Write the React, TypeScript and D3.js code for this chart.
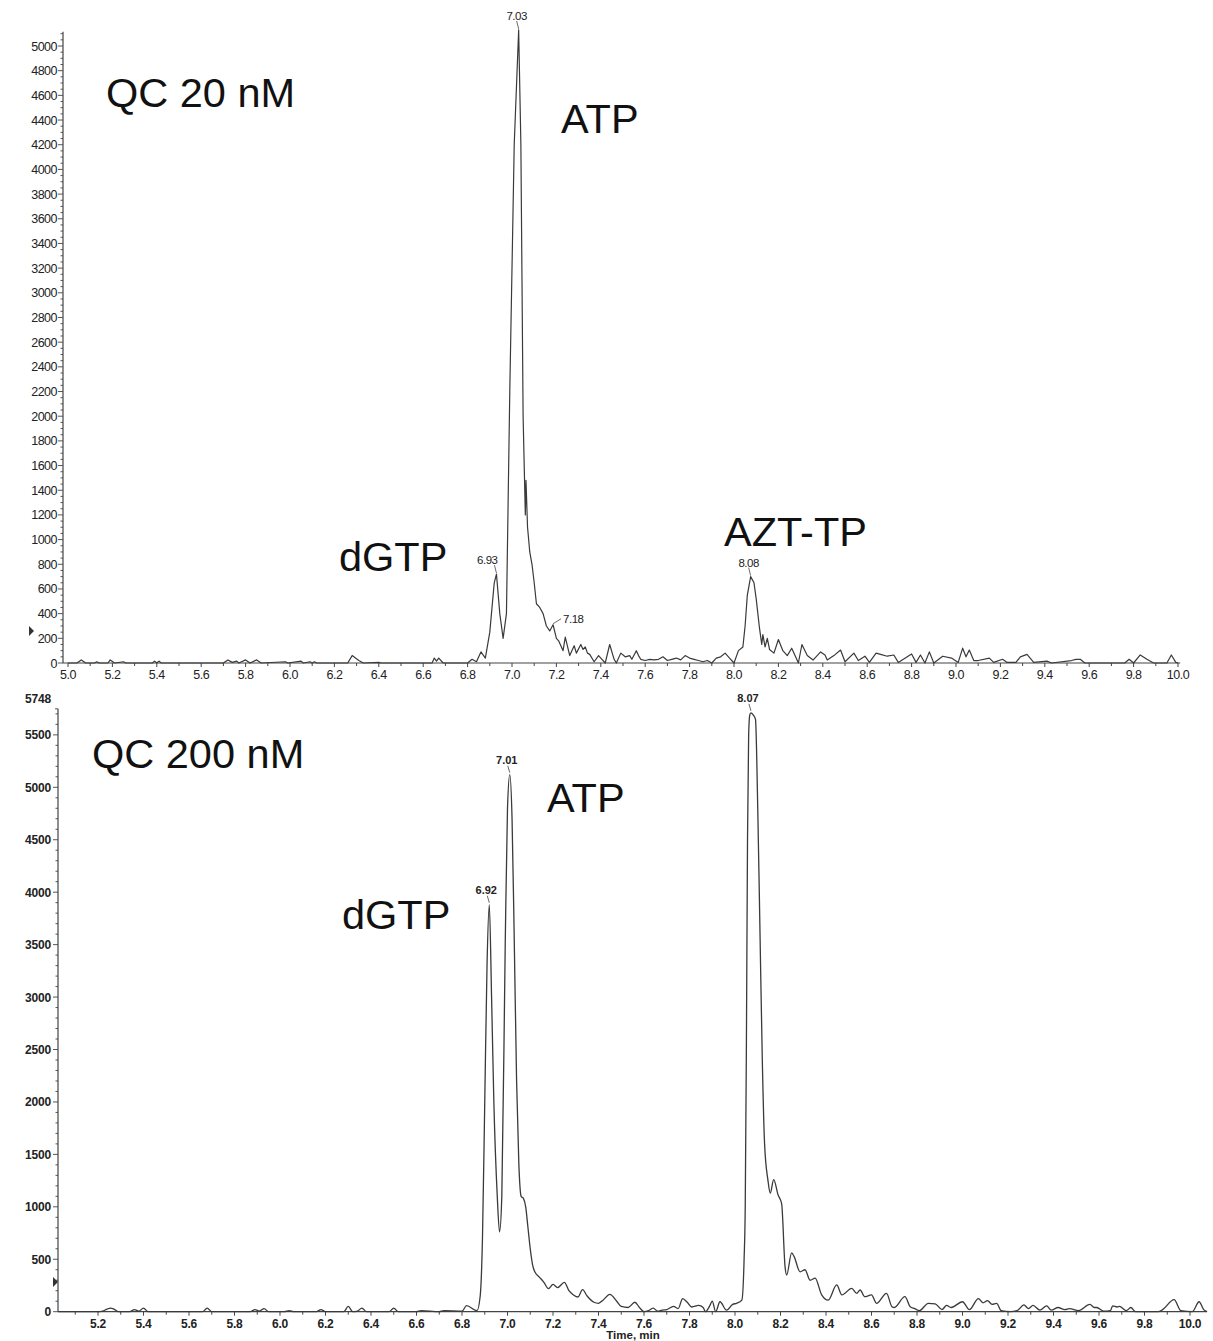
import React from "react";
import * as d3 from "d3";

// ---------- DATA ----------
const topTime = [
  5.0, 5.04, 5.06, 5.08, 5.12, 5.13, 5.14, 5.18, 5.19, 5.21, 5.25, 5.26, 5.38, 5.39, 5.4, 5.41, 5.42,
  5.7, 5.72, 5.74, 5.76, 5.77, 5.8, 5.82, 5.85, 5.87, 5.98, 5.99, 6.05, 6.06, 6.09, 6.1, 6.11, 6.12,
  6.26, 6.28, 6.31, 6.32, 6.33, 6.4, 6.41, 6.64, 6.65, 6.66, 6.67, 6.69, 6.8, 6.82, 6.84, 6.86, 6.88,
  6.9, 6.92, 6.93, 6.945, 6.96, 6.975, 6.99, 7.01, 7.03, 7.04, 7.05, 7.06, 7.063, 7.07, 7.08, 7.09,
  7.1, 7.11, 7.125, 7.14, 7.155, 7.17, 7.185, 7.2, 7.21, 7.23, 7.24, 7.26, 7.28, 7.29, 7.31, 7.32,
  7.33, 7.34, 7.35, 7.37, 7.39, 7.4, 7.42, 7.44, 7.46, 7.47, 7.49, 7.51, 7.53, 7.54, 7.56, 7.57,
  7.58, 7.6, 7.62, 7.64, 7.66, 7.68, 7.7, 7.72, 7.74, 7.76, 7.78, 7.8, 7.82, 7.84, 7.86, 7.88, 7.9,
  7.92, 7.94, 7.96, 7.98, 8.0, 8.02, 8.04, 8.05, 8.06, 8.075, 8.09, 8.1, 8.115, 8.125, 8.13, 8.14,
  8.15, 8.16, 8.18, 8.2, 8.22, 8.24, 8.26, 8.28, 8.29, 8.306, 8.33, 8.356, 8.39, 8.41, 8.42, 8.45,
  8.48, 8.5, 8.54, 8.56, 8.59, 8.61, 8.64, 8.66, 8.69, 8.72, 8.74, 8.8, 8.82, 8.84, 8.86, 8.88, 8.9,
  8.94, 8.98, 9.01, 9.03, 9.045, 9.06, 9.08, 9.1, 9.15, 9.17, 9.21, 9.23, 9.27, 9.29, 9.32, 9.35,
  9.41, 9.43, 9.52, 9.54, 9.56, 9.58, 9.76, 9.78, 9.8, 9.83, 9.86, 9.89, 9.95, 9.97, 9.99, 10.0
];
const topIntensity = [
  0, 0, 25, 0, 0, 10, 0, 0, 25, 0, 10, 0, 0, 15, 0, 15, 0,
  0, 25, 5, 15, 0, 25, 0, 25, 0, 10, 0, 15, 0, 10, 0, 10, 0,
  0, 60, 20, 10, 0, 5, 0, 0, 40, 15, 40, 0, 0, 30, 10, 90, 40,
  250, 650, 720, 400, 200, 400, 2200, 4200, 5130, 4200, 2000, 1200, 1480, 1100, 900, 800,
  650, 480, 450, 400, 300, 260, 310, 200, 180, 100, 210, 60, 140, 80, 150, 110,
  130, 80, 70, 10, 60, 40, 0, 150, 30, 0, 80, 50, 60, 30, 100, 60,
  30, 20, 30, 25, 30, 50, 20, 30, 40, 25, 60, 40, 30, 20, 10, 20, 0,
  40, 50, 80, 40, 0, 100, 130, 300, 550, 700, 650, 520, 280, 150, 230, 130,
  200, 110, 80, 190, 100, 60, 120, 40, 0, 150, 60, 24, 90, 65, 24, 60,
  105, 10, 80, 20, 55, 5, 80, 70, 55, 65, 5, 73, 5, 65, 0, 90, 0,
  55, 40, 5, 120, 50, 105, 20, 20, 40, 5, 30, 5, 5, 50, 70, 5,
  15, 0, 20, 30, 30, 0, 0, 30, 0, 65, 30, 0, 0, 65, 5, 0
];

const botTime = [
  5.024, 5.2, 5.22, 5.24, 5.255, 5.27, 5.29, 5.34, 5.36, 5.38, 5.4, 5.42, 5.66, 5.68, 5.7, 5.87,
  5.89, 5.91, 5.93, 5.95, 6.02, 6.04, 6.06, 6.16, 6.18, 6.2, 6.28, 6.3, 6.32, 6.34, 6.36, 6.38,
  6.48, 6.5, 6.52, 6.6, 6.62, 6.7, 6.72, 6.8, 6.82, 6.866, 6.88, 6.89, 6.9, 6.91, 6.92, 6.93, 6.94,
  6.955, 6.965, 6.975, 6.99, 7.0, 7.01, 7.02, 7.03, 7.04, 7.05, 7.06, 7.07, 7.08, 7.09, 7.1, 7.11,
  7.12, 7.14, 7.16, 7.18, 7.2, 7.22, 7.25, 7.27, 7.29, 7.31, 7.33, 7.35, 7.38, 7.4, 7.42, 7.45,
  7.48, 7.5, 7.53, 7.56, 7.58, 7.6, 7.62, 7.64, 7.66, 7.68, 7.7, 7.73, 7.75, 7.77, 7.79, 7.81,
  7.84, 7.86, 7.87, 7.89, 7.9, 7.915, 7.934, 7.963, 7.99, 8.007, 8.03, 8.04, 8.045, 8.05, 8.055,
  8.06, 8.065, 8.07, 8.08, 8.09, 8.1, 8.11, 8.12, 8.13, 8.145, 8.155, 8.17, 8.19, 8.205, 8.22,
  8.227, 8.249, 8.26, 8.286, 8.308, 8.33, 8.352, 8.381, 8.41, 8.447, 8.47, 8.513, 8.535, 8.55,
  8.57, 8.6, 8.622, 8.666, 8.69, 8.7, 8.747, 8.77, 8.79, 8.81, 8.85, 8.88, 8.91, 8.93, 8.95, 9.0,
  9.03, 9.07, 9.09, 9.11, 9.13, 9.15, 9.17, 9.21, 9.24, 9.27, 9.29, 9.31, 9.34, 9.37, 9.39, 9.42,
  9.45, 9.47, 9.51, 9.56, 9.58, 9.59, 9.62, 9.65, 9.66, 9.68, 9.69, 9.72, 9.74, 9.76, 9.86, 9.88,
  9.93, 9.96, 10.01, 10.04, 10.06, 10.075
];
const botIntensity = [
  0, 0, 5, 25, 35, 25, 0, 0, 20, 5, 35, 0, 0, 35, 0, 0,
  20, 5, 30, 0, 0, 10, 0, 0, 20, 0, 0, 50, 0, 5, 35, 0,
  0, 35, 0, 0, 10, 0, 10, 5, 57, 10, 150, 700, 2000, 3300, 3880, 3000, 2000,
  1100, 760, 1100, 3500, 4800, 5120, 4700, 3500, 2200, 1400, 1100, 1080, 1000, 800, 600, 450,
  380, 330, 280, 220, 260, 230, 280, 200, 160, 140, 210, 150, 90, 80, 110, 165,
  100, 50, 40, 90, 40, 0, 10, 35, 5, 15, 20, 50, 30, 125, 90, 45,
  60, 40, 0, 60, 100, 0, 95, 15, 70, 80, 110, 500, 1000, 2500, 4500,
  5500, 5690, 5710, 5690, 5650, 4800, 3600, 2400, 1600, 1250, 1130, 1260, 1110, 1030, 430,
  350, 560, 525, 380, 400, 300, 320, 160, 110, 255, 160, 223, 175, 207,
  143, 160, 80, 175, 48, 40, 143, 48, 30, 10, 80, 75, 20, 60, 40, 95,
  20, 125, 85, 105, 70, 80, 10, 0, 10, 65, 30, 60, 15, 55, 15, 40,
  20, 30, 10, 70, 40, 40, 5, 10, 55, 45, 50, 10, 40, 0, 0, 20,
  115, 10, 0, 95, 20, 0
];

const topYTicks = [0, 200, 400, 600, 800, 1000, 1200, 1400, 1600, 1800, 2000, 2200, 2400, 2600, 2800,
  3000, 3200, 3400, 3600, 3800, 4000, 4200, 4400, 4600, 4800, 5000];
const topXLabels = ["5.0", "5.2", "5.4", "5.6", "5.8", "6.0", "6.2", "6.4", "6.6", "6.8", "7.0", "7.2",
  "7.4", "7.6", "7.8", "8.0", "8.2", "8.4", "8.6", "8.8", "9.0", "9.2", "9.4", "9.6", "9.8", "10.0"];
const botYTicks = [0, 500, 1000, 1500, 2000, 2500, 3000, 3500, 4000, 4500, 5000, 5500];
const botYMax = 5748;
const botXLabels = ["5.2", "5.4", "5.6", "5.8", "6.0", "6.2", "6.4", "6.6", "6.8", "7.0", "7.2", "7.4",
  "7.6", "7.8", "8.0", "8.2", "8.4", "8.6", "8.8", "9.0", "9.2", "9.4", "9.6", "9.8", "10.0"];

const topPeaks = [
  { label: "7.03", t: 7.03, v: 5130 },
  { label: "6.93", t: 6.93, v: 720 },
  { label: "7.18", t: 7.185, v: 310 },
  { label: "8.08", t: 8.075, v: 700 },
];
const botPeaks = [
  { label: "8.07", t: 8.07, v: 5710 },
  { label: "7.01", t: 7.01, v: 5120 },
  { label: "6.92", t: 6.92, v: 3880 },
];

const FONT = "'Liberation Sans', Arial, sans-serif";

export default function App() {
  // top panel scales
  const xT = d3.scaleLinear().domain([5.0, 10.0]).range([68, 1178]);
  const yT = d3.scaleLinear().domain([0, 5000]).range([663, 46]);
  const xTmin = 4.977, xTmax = 10.01, yTmax = 5115;
  // bottom panel scales
  const xB = d3.scaleLinear().domain([5.2, 10.0]).range([98, 1190]);
  const yB = d3.scaleLinear().domain([0, 5000]).range([1311.7, 787.3]);
  const xBmin = 5.024, xBmax = 10.075;

  const topLine = d3.line<number>()
    .x((_, i) => xT(topTime[i]))
    .y((d) => yT(d))
    .curve(d3.curveLinear)(topIntensity) as string;
  const botLine = d3.line<number>()
    .x((_, i) => xB(botTime[i]))
    .y((d) => yB(d))
    .curve(d3.curveMonotoneX)(botIntensity) as string;

  const topMinorY = d3.range(0, 5101, 50);
  const topMinorX = d3.range(0, 51).map((i) => 5 + i * 0.1);
  const botMinorY = d3.range(0, 5701, 100);
  const botMinorX = d3.range(0, 50).map((i) => 5.1 + i * 0.1);

  const axisColor = "#444";
  const lineColor = "#3a3a3a";

  return (
    <svg width={1213} height={1341} style={{ position: "absolute", left: 0, top: 0, background: "#fff" }}
      fontFamily={FONT}>
      <rect x={0} y={0} width={1213} height={1341} fill="#fff" />
      {/* ---------- TOP PANEL ---------- */}
      <g>
        <line x1={63} x2={63} y1={yT(yTmax)} y2={yT(0)} stroke={axisColor} strokeWidth={1.2} />
        <line x1={xT(xTmin)} x2={xT(xTmax)} y1={yT(0)} y2={yT(0)} stroke={axisColor} strokeWidth={1.2} />
        {topMinorY.map((v) => (
          <line key={"tmy" + v} x1={v % 200 === 0 ? 58 : 60.5} x2={63} y1={yT(v)} y2={yT(v)}
            stroke={axisColor} strokeWidth={0.9} />
        ))}
        {topYTicks.map((v) => (
          <text key={"tyl" + v} x={57} y={yT(v) + 4.5} fontSize={12.5} textAnchor="end" fill="#222"
            letterSpacing={-0.5}>{v}</text>
        ))}
        {topMinorX.map((t, i) => (
          <line key={"tmx" + i} x1={xT(t)} x2={xT(t)} y1={yT(0)} y2={yT(0) + (i % 2 === 0 ? 4 : 3)}
            stroke={axisColor} strokeWidth={1} />
        ))}
        {topXLabels.map((s, i) => (
          <text key={"txl" + s} x={xT(5 + i * 0.2)} y={679} fontSize={12.5} textAnchor="middle" fill="#222"
            letterSpacing={-0.5}>{s}</text>
        ))}
        <path d="M29,626 L34,631 L29,636 Z" fill="#333" />
        <path d={topLine} fill="none" stroke={lineColor} strokeWidth={1.2} strokeLinejoin="round" />
        {topPeaks.map((p) => {
          const px = xT(p.t), py = yT(p.v);
          if (p.label === "7.18") {
            return (
              <g key={p.label}>
                <line x1={px} y1={py - 1} x2={px + 8} y2={py - 6} stroke="#444" strokeWidth={0.8} />
                <text x={px + 10} y={py - 2} fontSize={11.5} fill="#222" letterSpacing={-0.5}>{p.label}</text>
              </g>
            );
          }
          return (
            <g key={p.label}>
              <line x1={px - 2} y1={py - 9} x2={px} y2={py - 1} stroke="#444" strokeWidth={0.8} />
              <text x={px - 2} y={py - 10} fontSize={11.5} textAnchor={p.label === "6.93" ? "end" : "middle"}
                dx={p.label === "6.93" ? 3 : 0} fill="#222" letterSpacing={-0.5}>{p.label}</text>
            </g>
          );
        })}
        <text x={106} y={107} fontSize={41.5} fill="#111">QC 20 nM</text>
        <text x={561} y={133} fontSize={41.5} fill="#111">ATP</text>
        <text x={339} y={571} fontSize={41.5} fill="#111">dGTP</text>
        <text x={724} y={546} fontSize={41.5} fill="#111">AZT-TP</text>
      </g>

      {/* ---------- BOTTOM PANEL ---------- */}
      <g>
        <line x1={58} x2={58} y1={yB(botYMax)} y2={yB(0)} stroke={axisColor} strokeWidth={1.2} />
        <line x1={xB(xBmin)} x2={xB(xBmax)} y1={yB(0)} y2={yB(0)} stroke={axisColor} strokeWidth={1.2} />
        {botMinorY.map((v) => (
          <line key={"bmy" + v} x1={v % 500 === 0 ? 53 : 55.5} x2={58} y1={yB(v)} y2={yB(v)}
            stroke={axisColor} strokeWidth={0.9} />
        ))}
        <line x1={55} x2={58} y1={yB(botYMax)} y2={yB(botYMax)} stroke={axisColor} strokeWidth={0.9} />
        {botYTicks.map((v) => (
          <text key={"byl" + v} x={51} y={yB(v) + 4.5} fontSize={12} textAnchor="end" fill="#222"
            fontWeight="bold" letterSpacing={-0.2}>{v}</text>
        ))}
        <text x={51} y={yB(botYMax) - 6} fontSize={12} textAnchor="end" fill="#222" fontWeight="bold"
          letterSpacing={-0.2}>{botYMax}</text>
        {botMinorX.map((t, i) => (
          <line key={"bmx" + i} x1={xB(t)} x2={xB(t)} y1={yB(0)} y2={yB(0) + (i % 2 === 1 ? 4 : 3)}
            stroke={axisColor} strokeWidth={1} />
        ))}
        {botXLabels.map((s, i) => (
          <text key={"bxl" + s} x={xB(5.2 + i * 0.2)} y={1328} fontSize={12} textAnchor="middle" fill="#222"
            fontWeight="bold" letterSpacing={-0.2}>{s}</text>
        ))}
        <text x={633} y={1339} fontSize={11.5} textAnchor="middle" fill="#222" fontWeight="bold">Time, min</text>
        <path d="M53,1277 L58,1282 L53,1287 Z" fill="#333" />
        <path d={botLine} fill="none" stroke={lineColor} strokeWidth={1.3} strokeLinejoin="round" />
        {botPeaks.map((p) => {
          const px = xB(p.t), py = yB(p.v);
          return (
            <g key={p.label}>
              <line x1={px - 2} y1={py - 9} x2={px} y2={py - 2} stroke="#444" strokeWidth={0.8} />
              <text x={px - 3} y={py - 11} fontSize={11} textAnchor="middle" fill="#222"
                fontWeight="bold">{p.label}</text>
            </g>
          );
        })}
        <text x={92} y={768} fontSize={41.5} fill="#111">QC 200 nM</text>
        <text x={547} y={812} fontSize={41.5} fill="#111">ATP</text>
        <text x={342} y={929} fontSize={41.5} fill="#111">dGTP</text>
      </g>
    </svg>
  );
}
